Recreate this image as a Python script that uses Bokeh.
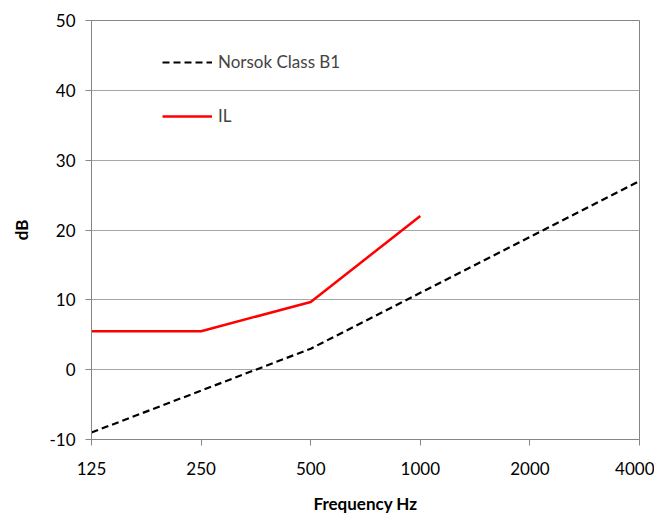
from bokeh.plotting import figure
from bokeh.models import Range1d, FixedTicker, NumeralTickFormatter, Legend, LegendItem
from bokeh.embed import file_html
from bokeh.resources import INLINE

freqs = [125, 250, 500, 1000, 2000, 4000]
norsok = [-9, -3, 3, 11, 19, 27]
il_freqs = [125, 250, 500, 1000]
il = [5.5, 5.5, 9.7, 22]
y_ticks = [-10, 0, 10, 20, 30, 40, 50]
y_tick_labels = ["-10", "0", "10", "20", "30", "40", "50"]

FONT = "Lato"

p = figure(width=654, height=516, output_backend="svg", toolbar_location=None,
           x_axis_type="log", x_range=Range1d(125, 4000), y_range=Range1d(-10, 50),
           min_border_left=91, min_border_right=15, min_border_top=20, min_border_bottom=74)

r1 = p.line(freqs, norsok, line_color="black", line_width=2.2, line_dash="7 4")
r2 = p.line(il_freqs, il, line_color="#ff0000", line_width=2.5)

p.xaxis.ticker = FixedTicker(ticks=freqs)
p.xaxis.formatter = NumeralTickFormatter(format="0")
p.yaxis.ticker = FixedTicker(ticks=y_ticks)
p.yaxis.major_label_overrides = {t: s for t, s in zip(y_ticks, y_tick_labels)}

for ax in (p.xaxis, p.yaxis):
    ax.axis_line_color = "#868686"
    ax.major_tick_line_color = "#868686"
    ax.major_tick_out = 6
    ax.major_tick_in = 0
    ax.minor_tick_line_color = None
    ax.major_label_text_font = FONT
    ax.major_label_text_font_size = "17px"
    ax.major_label_text_color = "black"
    ax.axis_label_text_font = FONT
    ax.axis_label_text_font_style = "bold"
    ax.axis_label_text_font_size = "17px"
    ax.axis_label_text_color = "black"

p.xaxis.axis_label = "Frequency Hz"
p.yaxis.axis_label = "dB"
p.xaxis.major_label_standoff = 16
p.yaxis.major_label_standoff = 10
p.xaxis.axis_label_standoff = 15
p.yaxis.axis_label_standoff = 14

p.xgrid.grid_line_color = None
p.ygrid.grid_line_color = "#a6a6a6"
p.ygrid.grid_line_width = 1
p.ygrid.ticker = FixedTicker(ticks=y_ticks)
p.outline_line_color = "#868686"
p.background_fill_color = "white"
p.border_fill_color = "white"

legend = Legend(items=[LegendItem(label="Norsok Class B1", renderers=[r1]),
                       LegendItem(label="IL", renderers=[r2])],
                location=(71, 313), orientation="vertical",
                glyph_width=50, glyph_height=20, label_height=20, spacing=33,
                label_standoff=6, padding=0, margin=0,
                background_fill_alpha=0, border_line_alpha=0,
                label_text_font=FONT, label_text_font_size="17px")
p.add_layout(legend, "center")

open("out.html", "w").write(file_html(p, INLINE))
